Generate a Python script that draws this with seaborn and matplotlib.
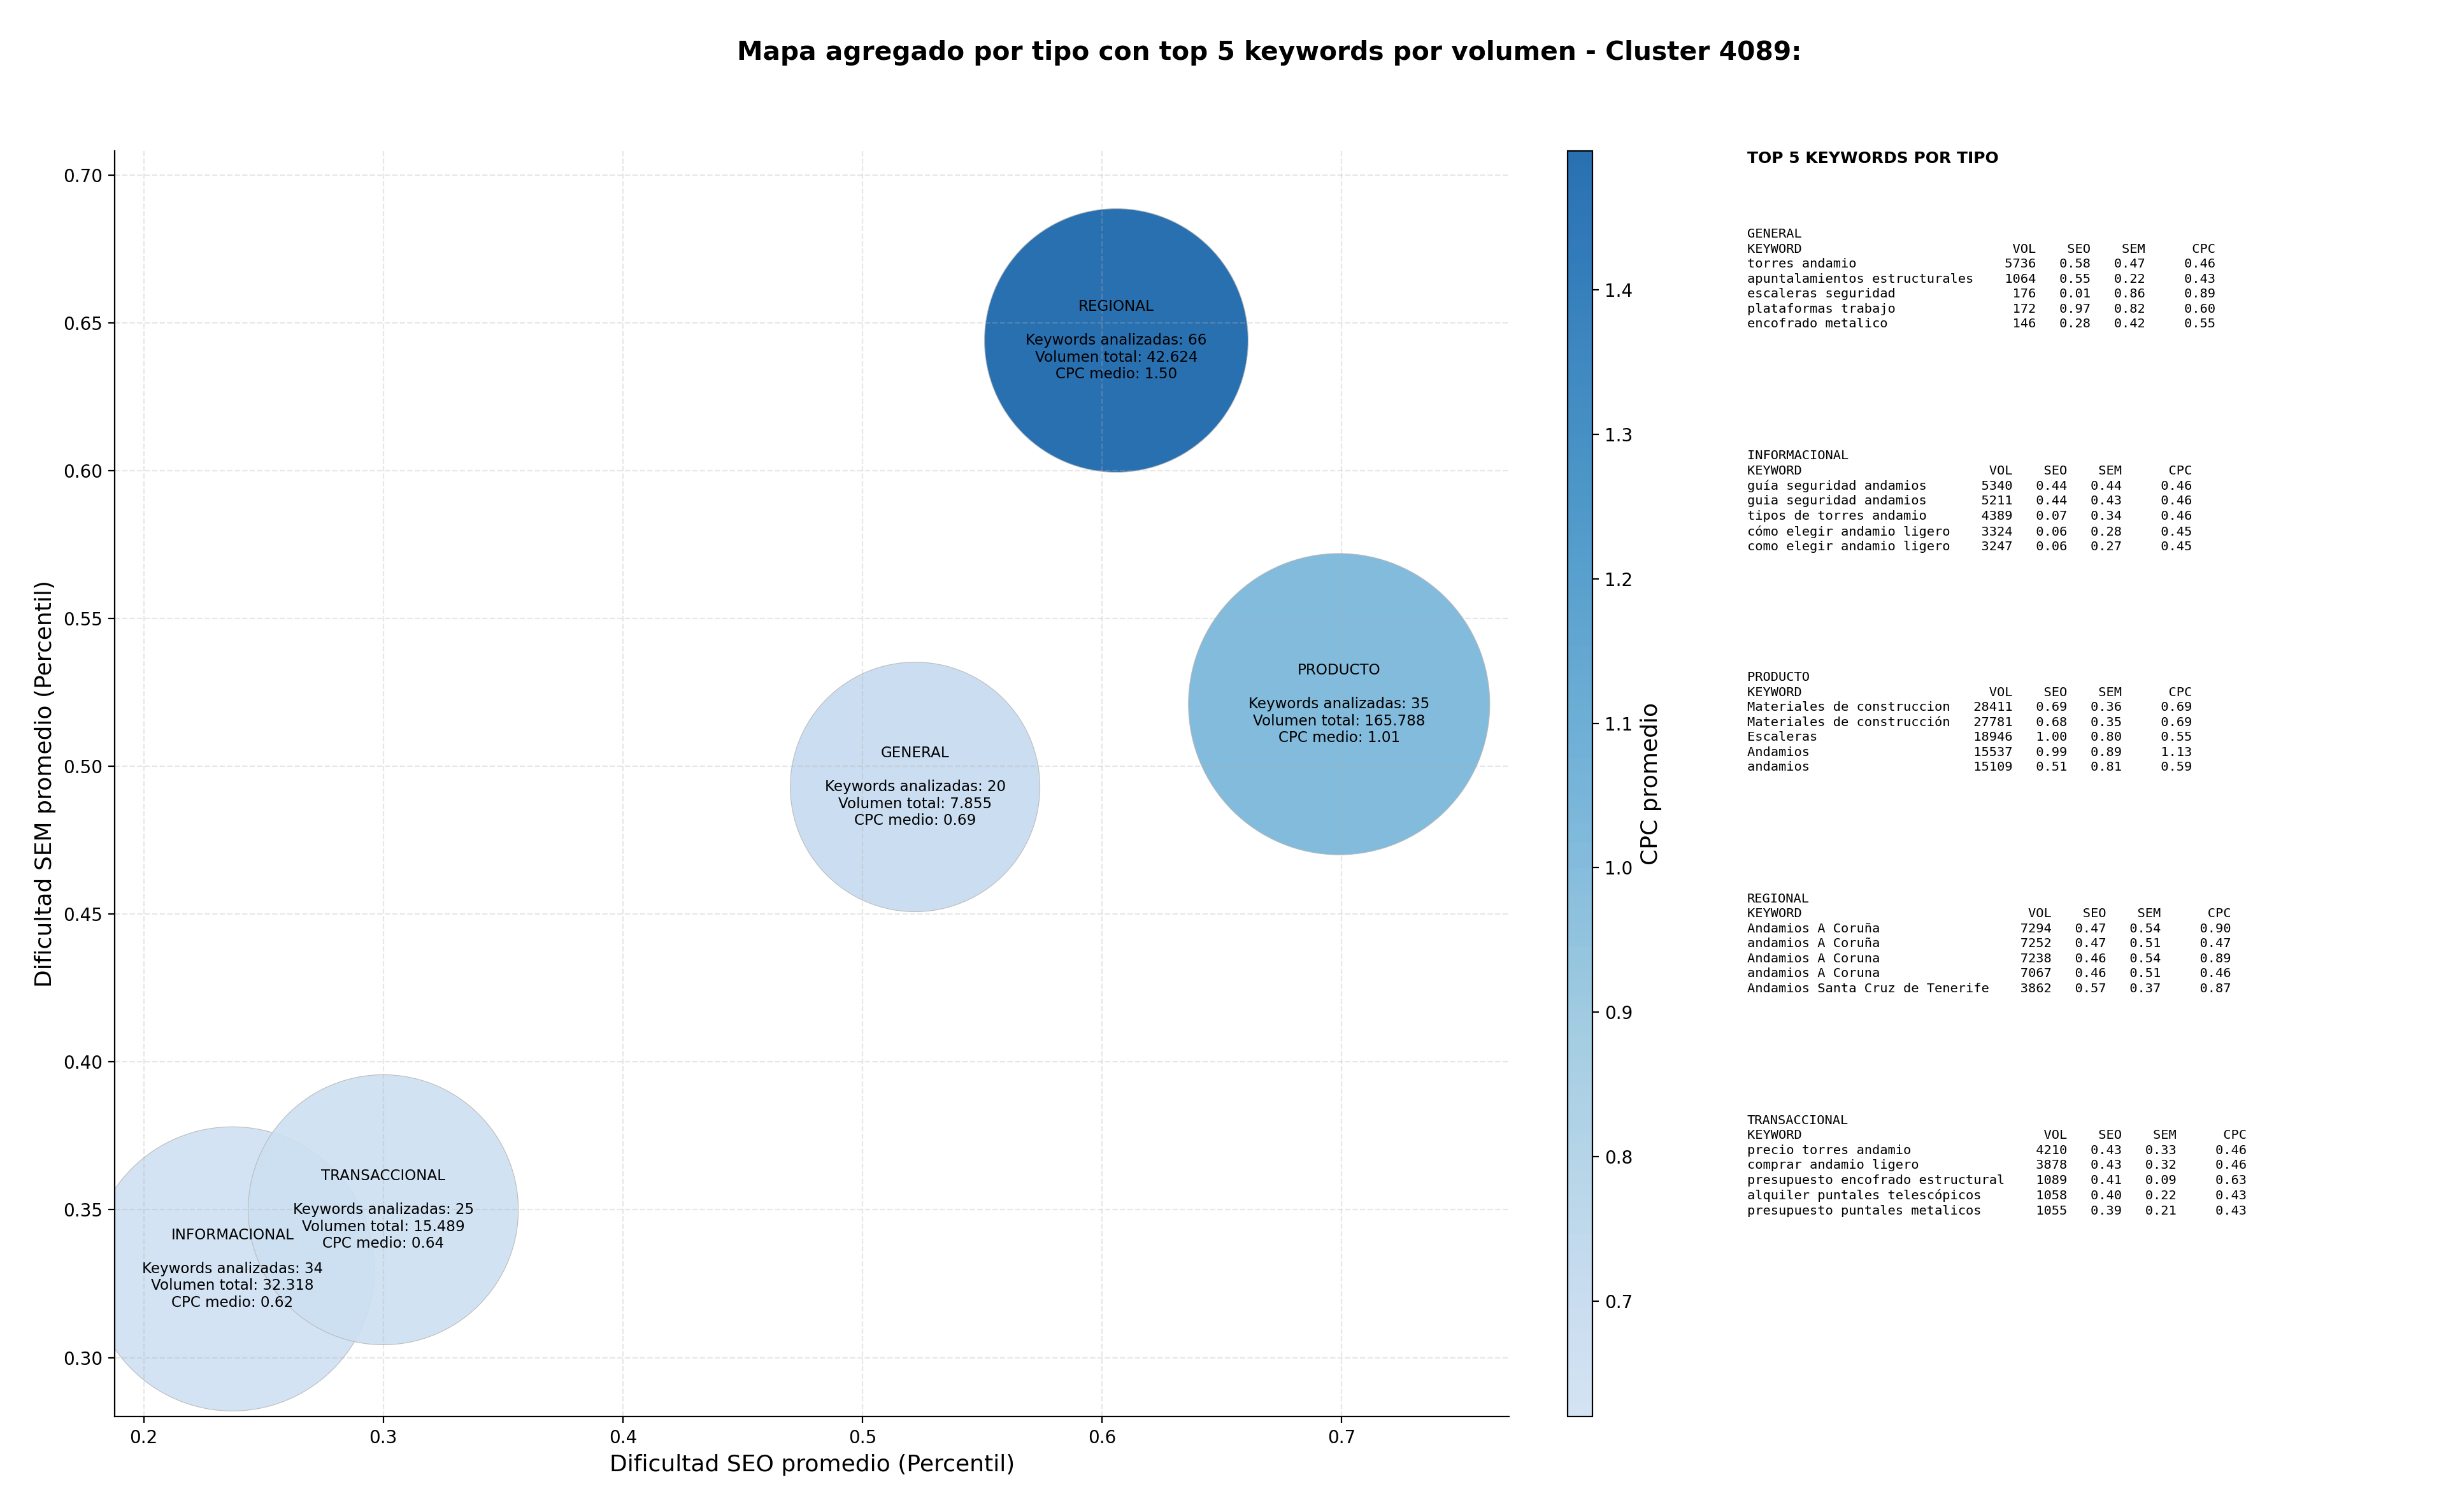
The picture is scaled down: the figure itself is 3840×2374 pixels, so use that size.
import matplotlib
matplotlib.use("Agg")
import numpy as np
import pandas as pd
import matplotlib.pyplot as plt
import seaborn as sns
from matplotlib.colors import LinearSegmentedColormap, Normalize

# Datos agregados por tipo
tipos = ['GENERAL', 'INFORMACIONAL', 'PRODUCTO', 'REGIONAL', 'TRANSACCIONAL']
seo_medio = [0.522, 0.237, 0.699, 0.606, 0.300]
sem_medio = [0.493, 0.330, 0.521, 0.644, 0.350]
cpc_medio = [0.69, 0.62, 1.01, 1.496, 0.64]
n_keywords = [20, 34, 35, 66, 25]
volumen_total = [7855, 32318, 165788, 42624, 15489]
tamano_burbuja = [19900, 25800, 29000, 22200, 23300]

# Top 5 keywords por tipo: (keyword, vol, seo, sem, cpc)
top_general = [
    ('torres andamio', 5736, 0.58, 0.47, 0.46),
    ('apuntalamientos estructurales', 1064, 0.55, 0.22, 0.43),
    ('escaleras seguridad', 176, 0.01, 0.86, 0.89),
    ('plataformas trabajo', 172, 0.97, 0.82, 0.60),
    ('encofrado metalico', 146, 0.28, 0.42, 0.55),
]
top_informacional = [
    ('guía seguridad andamios', 5340, 0.44, 0.44, 0.46),
    ('guia seguridad andamios', 5211, 0.44, 0.43, 0.46),
    ('tipos de torres andamio', 4389, 0.07, 0.34, 0.46),
    ('cómo elegir andamio ligero', 3324, 0.06, 0.28, 0.45),
    ('como elegir andamio ligero', 3247, 0.06, 0.27, 0.45),
]
top_producto = [
    ('Materiales de construccion', 28411, 0.69, 0.36, 0.69),
    ('Materiales de construcción', 27781, 0.68, 0.35, 0.69),
    ('Escaleras', 18946, 1.00, 0.80, 0.55),
    ('Andamios', 15537, 0.99, 0.89, 1.13),
    ('andamios', 15109, 0.51, 0.81, 0.59),
]
top_regional = [
    ('Andamios A Coruña', 7294, 0.47, 0.54, 0.90),
    ('andamios A Coruña', 7252, 0.47, 0.51, 0.47),
    ('Andamios A Coruna', 7238, 0.46, 0.54, 0.89),
    ('andamios A Coruna', 7067, 0.46, 0.51, 0.46),
    ('Andamios Santa Cruz de Tenerife', 3862, 0.57, 0.37, 0.87),
]
top_transaccional = [
    ('precio torres andamio', 4210, 0.43, 0.33, 0.46),
    ('comprar andamio ligero', 3878, 0.43, 0.32, 0.46),
    ('presupuesto encofrado estructural', 1089, 0.41, 0.09, 0.63),
    ('alquiler puntales telescópicos', 1058, 0.40, 0.22, 0.43),
    ('presupuesto puntales metalicos', 1055, 0.39, 0.21, 0.43),
]
tops = [top_general, top_informacional, top_producto, top_regional, top_transaccional]


def miles(v):
    return f"{v:,}".replace(",", ".")


def bloque(tipo, filas):
    w = max(len(f[0]) for f in filas)
    lineas = [tipo, f"{'KEYWORD':<{w}}{'VOL':>8}{'SEO':>7}{'SEM':>7}{'CPC':>9}"]
    for kw, vol, seo, sem, cpc in filas:
        lineas.append(f"{kw:<{w}}{vol:>8}{seo:>7.2f}{sem:>7.2f}{cpc:>9.2f}")
    return "\n".join(lineas)


df = pd.DataFrame({
    'tipo': tipos,
    'seo': seo_medio,
    'sem': sem_medio,
    'cpc': cpc_medio,
})

blues = plt.get_cmap('Blues')
cmap = LinearSegmentedColormap.from_list('blues_trunc', blues(np.linspace(0.2, 0.8, 256)))
norm = Normalize(vmin=min(cpc_medio), vmax=max(cpc_medio))

fig = plt.figure(figsize=(19.2, 11.87), dpi=200)
ax = fig.add_axes([0.047, 0.063, 0.570, 0.837])
cax = fig.add_axes([0.641, 0.063, 0.010, 0.837])

sns.scatterplot(data=df, x='seo', y='sem', hue='cpc', palette=cmap, hue_norm=norm,
                size='tipo', sizes=dict(zip(tipos, tamano_burbuja)),
                alpha=0.92, edgecolor='#b8b8b8', linewidth=0.4, legend=False, ax=ax)

for t, x, y, n, v, c in zip(tipos, seo_medio, sem_medio, n_keywords, volumen_total, cpc_medio):
    etiqueta = f"{t}\n\nKeywords analizadas: {n}\nVolumen total: {miles(v)}\nCPC medio: {c:.2f}"
    ax.text(x, y, etiqueta, ha='center', va='center', multialignment='center',
            fontsize=8.3, linespacing=1.2, zorder=5)

ax.set_xlim(0.188, 0.77)
ax.set_ylim(0.28, 0.708)
ax.set_xlabel('Dificultad SEO promedio (Percentil)', fontsize=13)
ax.set_ylabel('Dificultad SEM promedio (Percentil)', fontsize=13)
ax.grid(True, linestyle='--', alpha=0.3)
sns.despine(ax=ax)

sm = plt.cm.ScalarMappable(norm=norm, cmap=cmap)
cbar = fig.colorbar(sm, cax=cax)
cbar.solids.set_alpha(0.92)
cbar.set_label('CPC promedio', fontsize=13)

fig.text(0.519, 0.965, 'Mapa agregado por tipo con top 5 keywords por volumen - Cluster 4089:',
         ha='center', va='center', fontsize=14.7, fontweight='bold')

fig.text(0.7143, 0.895, 'TOP 5 KEYWORDS POR TIPO', ha='left', va='center',
         fontsize=9, fontweight='bold')
for i, (t, filas) in enumerate(zip(tipos, tops)):
    fig.text(0.7143, 0.849 - i * 0.1465, bloque(t, filas), ha='left', va='top',
             family='DejaVu Sans Mono', fontsize=7.35, linespacing=1.3)

plt.savefig('out.png', dpi=200)
